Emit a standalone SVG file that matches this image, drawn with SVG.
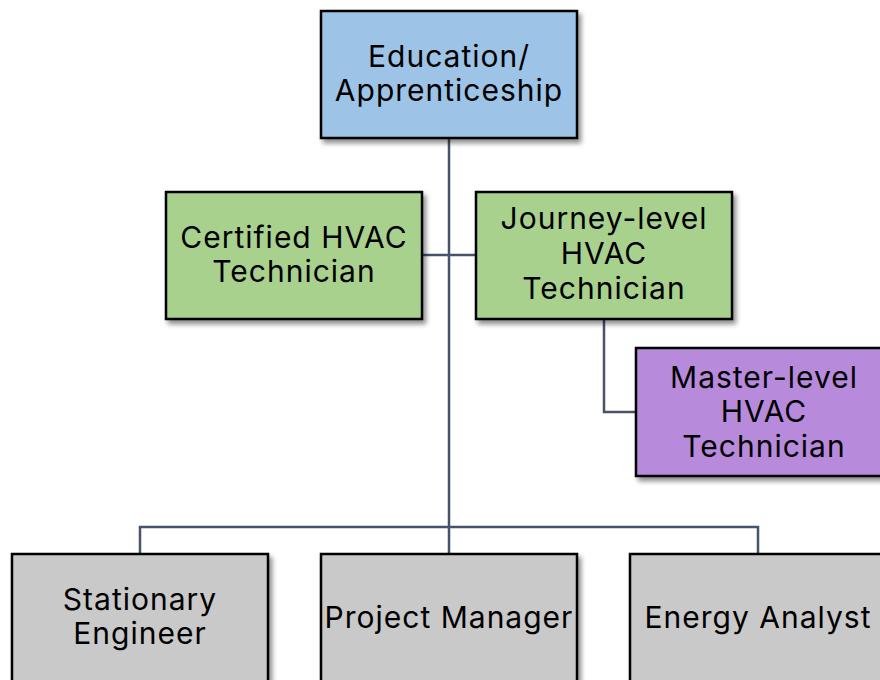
<svg xmlns="http://www.w3.org/2000/svg" width="880" height="680" viewBox="0 0 880 680">
<defs>
<filter id="sh" x="-10%" y="-10%" width="130%" height="130%">
<feGaussianBlur in="SourceAlpha" stdDeviation="2.5"/>
<feOffset dx="3" dy="4" result="b"/>
<feComponentTransfer><feFuncA type="linear" slope="0.45"/></feComponentTransfer>
<feMerge><feMergeNode/><feMergeNode in="SourceGraphic"/></feMerge>
</filter>
</defs>
<style>
.box{stroke:#000;stroke-width:2.5;filter:url(#sh)}
.blue{fill:#9dc3e6}
.green{fill:#a9d18e}
.purple{fill:#b88adc}
.gray{fill:#c9c9c9}
.t{font-family:Inter,"Liberation Sans",sans-serif;font-size:30px;font-weight:400;letter-spacing:1px;fill:#000;text-anchor:middle}
.c{fill:none;stroke:#44546a;stroke-width:2.5}
</style>
<rect width="880" height="680" fill="#fff"/>
<g id="connectors">
<path class="c" d="M449 138 V554"/>
<path class="c" d="M422 255 H476"/>
<path class="c" d="M604 319 V412 H636"/>
<path class="c" d="M140 554 V527 H758 V554"/>
</g>
<g id="education">
<rect class="box blue" x="321" y="11" width="256" height="127"/>
<text class="t" x="449" y="67">Education/</text>
<text class="t" x="449" y="101">Apprenticeship</text>
</g>
<g id="certified">
<rect class="box green" x="166" y="192" width="256" height="127"/>
<text class="t" x="294" y="248">Certified HVAC</text>
<text class="t" x="294" y="282">Technician</text>
</g>
<g id="journey">
<rect class="box green" x="476" y="192" width="256" height="127"/>
<text class="t" x="604" y="229">Journey-level</text>
<text class="t" x="604" y="264">HVAC</text>
<text class="t" x="604" y="299">Technician</text>
</g>
<g id="master">
<rect class="box purple" x="636" y="348" width="256" height="128"/>
<text class="t" x="764" y="388">Master-level</text>
<text class="t" x="764" y="422">HVAC</text>
<text class="t" x="764" y="457">Technician</text>
</g>
<g id="stationary">
<rect class="box gray" x="12" y="554" width="256" height="140"/>
<text class="t" x="140" y="610">Stationary</text>
<text class="t" x="140" y="644">Engineer</text>
</g>
<g id="project">
<rect class="box gray" x="321" y="554" width="256" height="140"/>
<text class="t" x="449" y="628">Project Manager</text>
</g>
<g id="energy">
<rect class="box gray" x="630" y="554" width="256" height="140"/>
<text class="t" x="758" y="628">Energy Analyst</text>
</g>
</svg>
